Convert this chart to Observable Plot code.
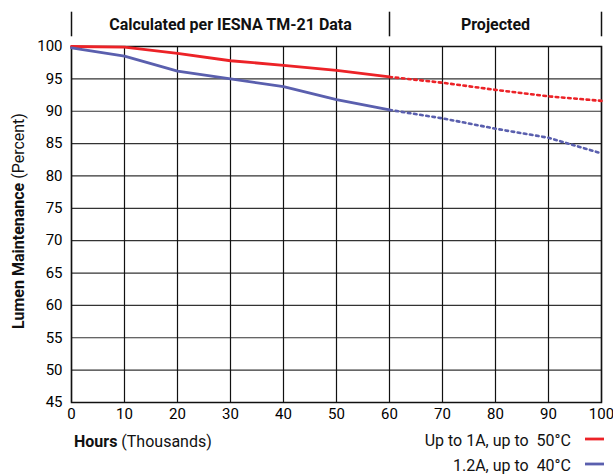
<!DOCTYPE html>
<html>
<head>
<meta charset="utf-8">
<script src="https://cdn.jsdelivr.net/npm/d3@7"></script>
<script src="https://cdn.jsdelivr.net/npm/@observablehq/plot@0.6"></script>
<style>
  body { margin: 0; background: #fff; }
  svg { font-family: Roboto, "Liberation Sans", sans-serif; }
</style>
</head>
<body>
<div id="chart"></div>
<script>
const hours = [0, 10, 20, 30, 40, 50, 60, 70, 80, 90, 100];
const red = [100, 99.9, 98.95, 97.8, 97.1, 96.3, 95.3, 94.4, 93.3, 92.3, 91.6];
const blue = [99.8, 98.5, 96.2, 95.0, 93.8, 91.8, 90.2, 88.9, 87.3, 85.9, 83.5];
const xTicks = [0, 10, 20, 30, 40, 50, 60, 70, 80, 90, 100];
const yTicks = [45, 50, 55, 60, 65, 70, 75, 80, 85, 90, 95, 100];
const headerBounds = [0, 60, 100];
const headers = [
  {x: 30, label: "Calculated per IESNA TM-21 Data"},
  {x: 80, label: "Projected"}
];
const seriesNames = ["Up to 1A, up to  50°C", "1.2A, up to  40°C"];
const seriesColors = ["#ec2227", "#5a5fae"];
const measuredEnd = 60;

const rows = [];
hours.forEach((h, i) => {
  rows.push({h, v: red[i], s: seriesNames[0]});
  rows.push({h, v: blue[i], s: seriesNames[1]});
});
const solid = rows.filter(d => d.h <= measuredEnd);
const dotted = rows.filter(d => d.h >= measuredEnd);

const mLeft = 71, mTop = 46, mBottom = 72;

const chart = Plot.plot({
  width: 613,
  height: 474,
  marginLeft: mLeft,
  marginRight: 12,
  marginTop: mTop,
  marginBottom: mBottom,
  style: {fontFamily: "Roboto, sans-serif", fontSize: "15px", overflow: "visible"},
  x: {domain: [0, 100], ticks: xTicks, tickSize: 0, tickPadding: 6, label: null},
  y: {domain: [45, 100], ticks: yTicks, tickSize: 0, tickPadding: 9, label: null},
  color: {domain: seriesNames, range: seriesColors},
  marks: [
    Plot.gridY(yTicks, {stroke: "#333", strokeOpacity: 1, strokeWidth: 1.2}),
    Plot.gridX(xTicks, {stroke: "#111", strokeOpacity: 1, strokeWidth: 1.2}),
    Plot.frame({stroke: "#111", strokeWidth: 1.5}),
    Plot.ruleX(headerBounds, {y1: 101.5, y2: 105.3, stroke: "#111", strokeWidth: 1.5, clip: false}),
    Plot.text(headers, {x: "x", y: 103.3, text: "label", fontWeight: "bold", fontSize: 16, fill: "#111", clip: false}),
    Plot.line(solid, {x: "h", y: "v", z: "s", stroke: "s", strokeWidth: 2.8}),
    Plot.line(dotted, {x: "h", y: "v", z: "s", stroke: "s", strokeWidth: 2.6, strokeDasharray: "2.6 3.6"}),
    Plot.axisX({ticks: xTicks, tickSize: 0, tickPadding: 6, fontSize: 15, label: null}),
    Plot.axisY({ticks: yTicks, tickSize: 0, tickPadding: 9, fontSize: 15, label: null})
  ]
});

const svg = d3.select(chart);
const yMid = mTop + (474 - mTop - mBottom) / 2;

// Y-axis title
const yt = svg.append("text")
  .attr("transform", `translate(24,${yMid - 3}) rotate(-90)`)
  .attr("text-anchor", "middle")
  .attr("font-size", 16)
  .attr("fill", "#111");
yt.append("tspan").attr("font-weight", "bold").text("Lumen Maintenance");
yt.append("tspan").text(" (Percent)");

// X-axis title
const xt = svg.append("text")
  .attr("x", mLeft + 3)
  .attr("y", 447)
  .attr("text-anchor", "start")
  .attr("font-size", 16)
  .attr("fill", "#111");
xt.append("tspan").attr("font-weight", "bold").text("Hours");
xt.append("tspan").text(" (Thousands)");

// Legend
seriesNames.forEach((name, i) => {
  const ly = 440 + i * 25;
  svg.append("text")
    .attr("x", 571)
    .attr("y", ly + 5.5)
    .attr("text-anchor", "end")
    .attr("font-size", 16)
    .attr("fill", "#111")
    .text(name);
  svg.append("line")
    .attr("x1", 585).attr("x2", 604)
    .attr("y1", ly - 1).attr("y2", ly - 1)
    .attr("stroke", seriesColors[i])
    .attr("stroke-width", 2.8);
});

document.getElementById("chart").appendChild(chart);
</script>
</body>
</html>
